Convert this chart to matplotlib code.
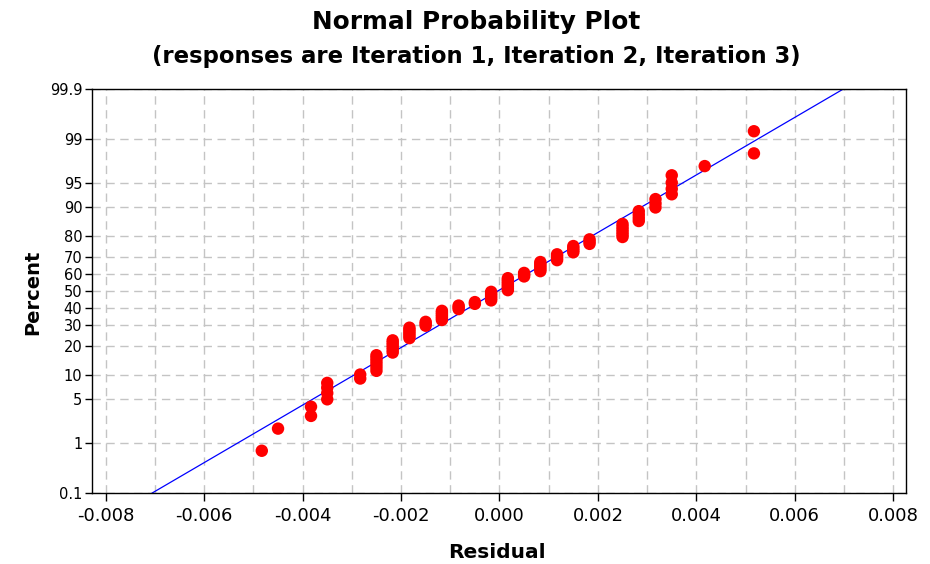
import numpy as np
import matplotlib
matplotlib.use('Agg')
import matplotlib.pyplot as plt
from matplotlib.ticker import MultipleLocator, FixedLocator
from statistics import NormalDist

resid_levels = [-0.00483, -0.0045, -0.00383, -0.0035, -0.00283, -0.0025, -0.00217,
                -0.00183, -0.0015, -0.00117, -0.00083, -0.0005, -0.00017, 0.00017,
                0.0005, 0.00083, 0.00117, 0.0015, 0.00183, 0.0025, 0.00283,
                0.00317, 0.0035, 0.00417, 0.00517]
level_counts = [1, 1, 2, 4, 2, 6, 6, 6, 3, 6, 3, 2, 6, 8, 3, 6, 4, 4, 3, 6, 4, 3, 4, 1, 2]

pct_ticks = [0.1, 1, 5, 10, 20, 30, 40, 50, 60, 70, 80, 90, 95, 99, 99.9]
pct_labels = ['0.1', '1', '5', '10', '20', '30', '40', '50', '60', '70', '80', '90', '95', '99', '99.9']
x_ticks = [-0.008, -0.006, -0.004, -0.002, 0.0, 0.002, 0.004, 0.006, 0.008]

nd = NormalDist()
z = lambda p: nd.inv_cdf(p / 100.0)

resid = np.sort(np.repeat(resid_levels, level_counts))
n = len(resid)
ranks = np.arange(1, n + 1)
pct = (ranks - 0.3) / (n + 0.4) * 100
zpts = np.array([z(p) for p in pct])

mu = resid.mean()
sd = resid.std(ddof=1)
zlo, zhi = z(0.1), z(99.9)
zline = np.array([zlo, zhi])

fig = plt.figure(figsize=(9.3, 5.64), dpi=100)
ax = fig.add_axes([92/930, 1-493/564, (906-92)/930, (493-89)/564])

ax.plot(mu + zline*sd, zline, color='#0000ff', lw=0.9, zorder=2)
ax.scatter(resid, zpts, s=80, color='#ff0000', edgecolors='none', zorder=3)

ax.set_xlim(-0.00828, 0.00826)
ax.set_ylim(zlo, zhi)
ax.xaxis.set_major_locator(FixedLocator(x_ticks))
ax.xaxis.set_minor_locator(MultipleLocator(0.001))
ax.set_xticklabels(['%.3f' % t for t in x_ticks])
ax.yaxis.set_major_locator(FixedLocator([z(p) for p in pct_ticks]))
ax.set_yticklabels(pct_labels)

ax.tick_params(axis='x', which='major', direction='out', length=6, width=1, labelsize=13, pad=4)
ax.tick_params(axis='x', which='minor', length=0)
ax.tick_params(axis='y', direction='out', length=5, width=1, labelsize=10.5, pad=2)
ax.grid(True, which='both', axis='x', color='#c4c4c4', ls=(0, (6, 4)), lw=1, zorder=0)
ax.grid(True, which='major', axis='y', color='#c4c4c4', ls=(0, (6, 4)), lw=1, zorder=0)
ax.set_axisbelow(True)
for s in ax.spines.values():
    s.set_linewidth(1)
    s.set_color('black')

fig.text(476/930, 1-22/564, 'Normal Probability Plot', ha='center', va='center',
         fontsize=17.8, fontweight='bold')
fig.text(476/930, 1-57/564, '(responses are Iteration 1, Iteration 2, Iteration 3)',
         ha='center', va='center', fontsize=16.4, fontweight='bold')
fig.text(33/930, 1-292/564, 'Percent', rotation=90, ha='center', va='center',
         fontsize=14, fontweight='bold')
fig.text(497/930, 1-552/564, 'Residual', ha='center', va='center',
         fontsize=14.5, fontweight='bold')

fig.savefig('out.png', dpi=100)
